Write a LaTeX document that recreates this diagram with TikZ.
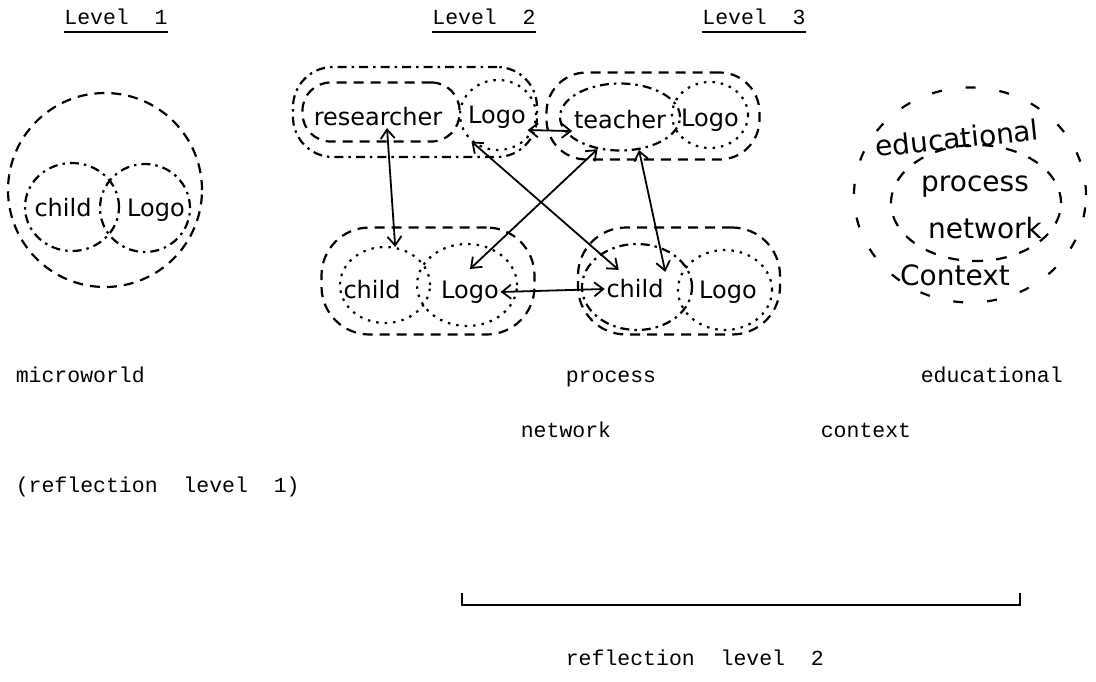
\documentclass[tikz,border=0pt]{standalone}
\usepackage{fontspec}
\setmainfont{DejaVu Sans}
\setmonofont{Liberation Mono}
\usetikzlibrary{arrows.meta, shapes.geometric, math}

\tikzset{
  hand/.style={font=\fontsize{24}{24}\selectfont, inner sep=1pt},
  handbig/.style={font=\fontsize{28}{28}\selectfont, inner sep=1pt},
  typed/.style={font=\ttfamily\fontsize{21.5}{21.5}\selectfont, inner sep=0pt, anchor=base west},
  ring/.style={draw, ellipse, inner sep=0pt, line width=2.2pt},
  oval/.style={draw, rectangle, rounded corners=40pt, inner sep=0pt, line width=2.2pt},
  dashed line/.style={dash pattern=on 10pt off 7pt},
  dashdot line/.style={dash pattern=on 9pt off 5pt on 2.5pt off 5pt},
  dot line/.style={dash pattern=on 2.5pt off 6pt},
  link/.style={line width=1.8pt, {Straight Barb[length=9pt,width=14pt]}-{Straight Barb[length=9pt,width=14pt]}},
}

\begin{document}
\begin{tikzpicture}[x=1pt, y=-1pt, line width=1.6pt]
    \tikzmath{
        \rowa=382;
        \rowb=437;
        \rowc=492;
        \bry=605;
    }
    \useasboundingbox (0,0) rectangle (1096,681);

    % level titles
    \foreach \i/\x in {1/116, 2/484, 3/754}{%
            \node [typed, anchor=base] (lv\i) at (\x, 24) {Level~~\i};
            \draw [line width=1.6pt] ([yshift=-8pt] lv\i.base west) -- ([yshift=-8pt] lv\i.base east);
        }

    % level 1
    \node [ring, dashed line, minimum width=194pt, minimum height=194pt] (l1out) at (105,190) {};
    \node [ring, dashdot line, minimum width=94pt, minimum height=88pt] (l1cring) at (72,207) {};
    \node [ring, dashdot line, minimum width=90pt, minimum height=88pt] (l1lring) at (145,208) {};
    \node [hand] (l1child) at (63,208) {child};
    \node [hand] (l1logo) at (156,210) {Logo};

    % level 2, top row
    \node [oval, dashdot line, minimum width=244pt, minimum height=90pt] (r2out) at (415,112) {};
    \node [oval, dashed line, rounded corners=28pt, minimum width=157pt, minimum height=59pt] (r2rring) at (381,112) {};
    \node [ring, dot line, minimum width=76pt, minimum height=70pt] (r2lring) at (498,115) {};
    \node [hand] (r2res) at (378,117) {researcher};
    \node [hand] (r2logo) at (497,117) {Logo};

    \node [oval, dashed line, minimum width=213pt, minimum height=87pt] (t2out) at (653,116) {};
    \node [ring, dashdot line, minimum width=120pt, minimum height=67pt] (t2tring) at (620,117) {};
    \node [ring, dot line, minimum width=76pt, minimum height=66pt] (t2lring) at (710,115) {};
    \node [hand] (t2tea) at (620,120) {teacher};
    \node [hand] (t2logo) at (710,120) {Logo};

    % level 2, bottom row
    \node [oval, dashed line, rounded corners=48pt, minimum width=213pt, minimum height=107pt] (b2out) at (428,281) {};
    \node [ring, dot line, minimum width=90pt, minimum height=76pt] (b2cring) at (385,285) {};
    \node [ring, dot line, minimum width=100pt, minimum height=82pt] (b2lring) at (467,285) {};
    \node [hand] (b2child) at (372,290) {child};
    \node [hand] (b2logo) at (470,292) {Logo};

    \node [oval, dashed line, rounded corners=48pt, minimum width=202pt, minimum height=107pt] (b3out) at (679,281) {};
    \node [ring, dashdot line, minimum width=110pt, minimum height=86pt] (b3cring) at (637,287) {};
    \node [ring, dot line, minimum width=94pt, minimum height=80pt] (b3lring) at (725,290) {};
    \node [hand] (b3child) at (635,289) {child};
    \node [hand] (b3logo) at (728,292) {Logo};

    % links
    \draw [link] ([xshift=9pt] r2res.south) -- (b2cring.75);
    \draw [link] (r2logo.south east) -- (t2tea.south west);
    \draw [link] (r2lring.225) -- ([xshift=14pt, yshift=8pt] b3child.north west);
    \draw [link] (t2tring.235) -- ([yshift=10pt] b2logo.north);
    \draw [link] (t2tring.300) -- ([yshift=6pt] b3child.north east);
    \draw [link] (b2logo.east) -- (b3child.west);

    % level 3
    \node [ring, dash pattern=on 10pt off 24pt, minimum width=232pt, minimum height=215pt] (l3out) at (970,195) {};
    \node [ring, dash pattern=on 11pt off 13pt, minimum width=170pt, minimum height=116pt] (l3in) at (976,203) {};
    \node [handbig, rotate=6] (l3edu) at (957,138) {educational};
    \node [handbig] (l3proc) at (975,187) {process};
    \node [handbig] (l3net) at (985,228) {network};
    \node [handbig] (l3ctx) at (955,275) {Context};

    % captions
    \node [typed] (capmw) at (15, \rowa) {microworld};
    \node [typed] (capproc) at (565, \rowa) {process};
    \node [typed] (capedu) at (920, \rowa) {educational};
    \node [typed] (capnet) at (520, \rowb) {network};
    \node [typed] (capctx) at (820, \rowb) {context};
    \node [typed] (capr1) at (15, \rowc) {(reflection~~level~~1)};

    % bracket
    \coordinate (brl) at (462, \bry);
    \coordinate (brr) at (1020, \bry);
    \draw [line width=1.4pt] ([yshift=12pt] brl) -- (brl) -- (brr) -- ([yshift=12pt] brr);
    \node [typed] (capr2) at (565, 665) {reflection~~level~~2};
\end{tikzpicture}
\end{document}
